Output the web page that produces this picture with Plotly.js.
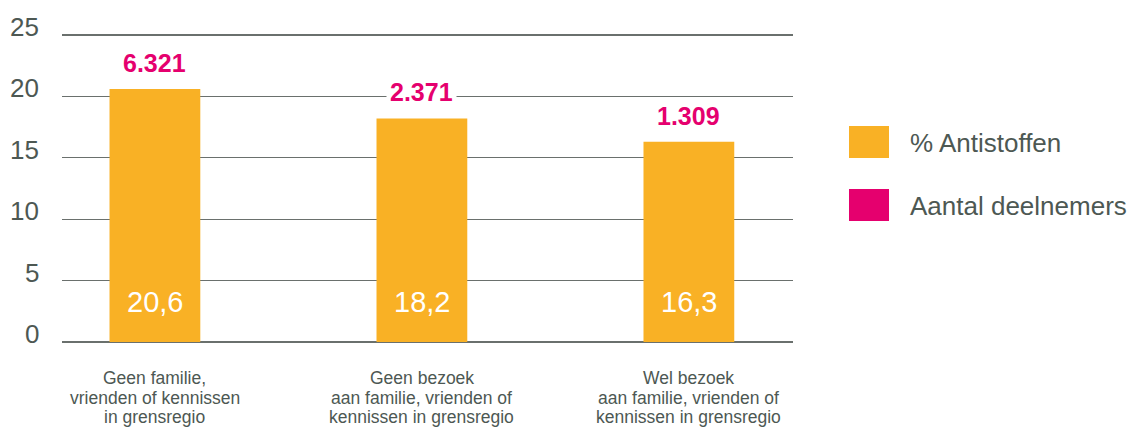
<!DOCTYPE html>
<html><head><meta charset="utf-8">
<script src="https://cdn.plot.ly/plotly-3.0.1.min.js"></script>
<style>html,body{margin:0;padding:0;background:#fff}#c{width:1143px;height:430px}</style>
</head><body><div id="c"></div>
<script>
const categories = [
  "Geen familie,<br>vrienden of kennissen<br>in grensregio",
  "Geen bezoek<br>aan familie, vrienden of<br>kennissen in grensregio",
  "Wel bezoek<br>aan familie, vrienden of<br>kennissen in grensregio"
];
const antistoffen = [20.6, 18.2, 16.3];
const antistoffenLabels = ["20,6", "18,2", "16,3"];
const deelnemersLabels = ["6.321", "2.371", "1.309"];
const seriesNames = ["% Antistoffen", "Aantal deelnemers"];
const yTicks = [0, 5, 10, 15, 20, 25];

const orange = "#F9B125", magenta = "#E5006E", grey = "#4d5853";
const font = "Liberation Sans, Arial, sans-serif";
const xIdx = categories.map((_, i) => i);

const trace = {
  type: "bar", x: xIdx, y: antistoffen, width: 0.34,
  marker: {color: orange}, name: seriesNames[0], hoverinfo: "none"
};

const annotations = [];
yTicks.forEach(v => {
  annotations.push({xref: "paper", yref: "y", x: 0, y: v, xanchor: "right", yanchor: "middle",
    xshift: -21, yshift: 8, text: String(v), showarrow: false,
    font: {family: font, size: 26, color: grey}});
});
xIdx.forEach(i => {
  categories[i].split("<br>").forEach((line, k) => {
    annotations.push({x: i, y: 0, xref: "x", yref: "y", yanchor: "middle", yshift: -36 - 19.5 * k,
      text: line, showarrow: false, font: {family: font, size: 17.5, color: grey}});
  });
  annotations.push({x: i, y: 0, xref: "x", yref: "y", yanchor: "middle", yshift: 40,
    text: antistoffenLabels[i], showarrow: false, font: {family: font, size: 29, color: "#fff"}});
  annotations.push({x: i, y: antistoffen[i], xref: "x", yref: "y", yanchor: "middle", yshift: 26,
    text: deelnemersLabels[i], showarrow: false, bgcolor: "#fff", borderpad: 3,
    font: {family: font, size: 25, color: magenta, weight: 600}});
});
const legendColors = [orange, magenta];
const shapes = [];
seriesNames.forEach((n, k) => {
  const yTop = 126 + k * 63;
  shapes.push({type: "rect", xref: "paper", yref: "paper",
    x0: (849 - 62) / 731, x1: (889 - 62) / 731,
    y0: (342 - yTop - 32) / 312, y1: (342 - yTop) / 312,
    fillcolor: legendColors[k], line: {width: 0}});
  annotations.push({xref: "paper", yref: "paper", x: (908 - 62) / 731, y: (342 - yTop - 17) / 312,
    xanchor: "left", yanchor: "middle", text: n, showarrow: false,
    font: {family: font, size: 26, color: grey}});
});

const layout = {
  width: 1143, height: 430,
  margin: {l: 62, r: 350, t: 30, b: 88},
  paper_bgcolor: "#fff", plot_bgcolor: "#fff",
  showlegend: false,
  xaxis: {range: [-0.348, 2.39], tickvals: xIdx, showticklabels: false, showgrid: false,
    zeroline: false, showline: false, ticks: "", fixedrange: true},
  yaxis: {range: [0, 25.4], tickvals: yTicks, showticklabels: false, showgrid: true,
    gridcolor: "#6a706d", gridwidth: 1.2, zeroline: true, zerolinecolor: "#6a706d", zerolinewidth: 1.5,
    showline: false, ticks: ""},
  annotations, shapes
};
Plotly.newPlot("c", [trace], layout, {displayModeBar: false, staticPlot: true});
</script></body></html>
